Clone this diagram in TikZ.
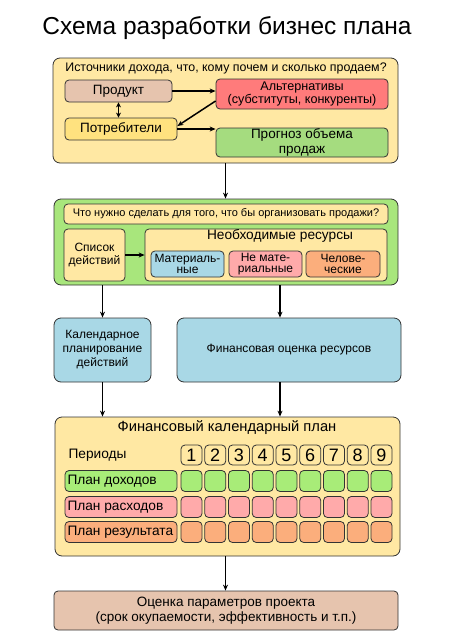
\documentclass[tikz,border=0pt]{standalone}
\usepackage{fontspec}
\setmainfont{Liberation Sans}
\usetikzlibrary{calc, arrows.meta}

\definecolor{yel}{HTML}{FFE8A3}
\definecolor{lime}{HTML}{A8E67C}
\definecolor{brn}{HTML}{E6C4AE}
\definecolor{redd}{HTML}{FF7B7B}
\definecolor{sun}{HTML}{FFE27F}
\definecolor{grn}{HTML}{A5DC7F}
\definecolor{blu}{HTML}{A9D8E6}
\definecolor{pnk}{HTML}{FFAAAA}
\definecolor{orn}{HTML}{FBAE7C}
\definecolor{rowg}{HTML}{A8EC78}

\begin{document}
\begin{tikzpicture}[x = 1pt, y = -1pt,
  box/.style = {draw = black!80, line width = 0.8pt, rounded corners = 4pt, inner sep = 0pt, align = center, font = \fontsize{13.5}{14.5}\selectfont},
  big/.style = {box, rounded corners = 7pt, font = \fontsize{12}{14}\selectfont},
  arr/.style = {line width = 1.5pt, -{Stealth[length = 6pt, width = 5pt]}},
  cell/.style = {box, minimum width = 21pt, minimum height = 21pt}]
\useasboundingbox (0,0) rectangle (453,640);
\node[font = \fontsize{24.5}{26}\selectfont] (ttl) at (227,28) {Схема разработки бизнес плана};
% sources of income
\node[big, fill = yel, minimum width = 345pt, minimum height = 105pt] (src) at (225.5,110.5) {};
\node[font = \fontsize{12.4}{13.5}\selectfont] (srcl) at (226,68) {Источники дохода, что, кому почем и сколько продаем?};
\node[box, fill = brn, minimum width = 107pt, minimum height = 22pt] (prod) at (118.5,91) {Продукт};
\node[box, fill = redd, minimum width = 172pt, minimum height = 30pt, font = \fontsize{12.6}{13.5}\selectfont] (alt) at (302,94) {Альтернативы\\(субституты, конкуренты)};
\node[box, fill = sun, minimum width = 112pt, minimum height = 22pt] (cons) at (121,129) {Потребители};
\node[box, fill = grn, minimum width = 172pt, minimum height = 29pt] (fcst) at (302,142.5) {Прогноз объема\\продаж};
% what to do
\node[big, fill = lime, minimum width = 344pt, minimum height = 86pt] (todo) at (226,242) {};
\node[box, fill = yel, minimum width = 324pt, minimum height = 20pt, font = \fontsize{11}{12}\selectfont] (quest) at (226,214) {Что нужно сделать для того, что бы организовать продажи?};
\node[box, fill = yel, minimum width = 61pt, minimum height = 52pt, font = \fontsize{12}{13.5}\selectfont] (acts) at (94.5,255) {Список\\действий};
\node[box, fill = yel, minimum width = 242pt, minimum height = 52pt] (res) at (266,255) {};
\node[font = \fontsize{13.7}{14}\selectfont] (resl) at (280,236) {Необходимые ресурсы};
\node[box, fill = blu, minimum width = 73pt, minimum height = 26pt, font = \fontsize{12}{11}\selectfont] (mat) at (187.5,264) {Материаль-\\ные};
\node[box, fill = pnk, minimum width = 73pt, minimum height = 26pt, font = \fontsize{12}{11}\selectfont] (nmat) at (265.5,264) {Не мате-\\риальные};
\node[box, fill = orn, minimum width = 74pt, minimum height = 26pt, font = \fontsize{12}{11}\selectfont] (hum) at (343,264) {Челове-\\ческие};
% planning
\node[big, fill = blu, minimum width = 97pt, minimum height = 64pt] (cal) at (102.5,350) {Календарное\\планирование\\действий};
\node[big, fill = blu, minimum width = 224pt, minimum height = 64pt] (fin) at (289,350) {Финансовая оценка ресурсов};
% financial plan
\node[big, fill = yel, minimum width = 345pt, minimum height = 139pt] (plan) at (227.5,486.5) {};
\node[font = \fontsize{14.7}{15}\selectfont] (planl) at (227,428) {Финансовый календарный план};
\node[anchor = west, font = \fontsize{13.7}{14}\selectfont] (per) at (65,455) {Периоды};
\foreach \n/\t/\c/\y in {inc/План доходов/rowg/481, exp/План расходов/pnk/507, rsl/План результата/orn/532}{
  \node[box, fill = \c, minimum width = 112pt, minimum height = 21pt, font = \fontsize{13.7}{15}\selectfont] (\n) at (121,\y) {\makebox[107pt][l]{\t}};
  \foreach \k in {1,...,9}{
    \node[cell, fill = \c] (\n\k) at ({191.5+23.75*(\k-1)},\y) {};
  }
}
\foreach \k in {1,...,9}{
  \node[cell, fill = yel, minimum height = 20pt, font = \fontsize{18}{18}\selectfont] (p\k) at ({191.5+23.75*(\k-1)},455) {\k};
}
\node[box, fill = brn, minimum width = 344pt, minimum height = 39pt] (eval) at (226,610.5) {Оценка параметров проекта\\(срок окупаемости, эффективность и т.п.)};
% connectors
\foreach \i/\j in {prod/alt, cons/fcst, acts/res}{
  \draw[arr] (\i.east) -- (\i.east -| \j.west);
}
\draw[arr] ($(alt.west)+(0,7)$) -- ($(cons.east)+(0,-3)$);
\draw[line width = 1.5pt, {Stealth[length = 5pt, width = 5pt]}-{Stealth[length = 5pt, width = 5pt]}] (prod.south) -- (prod.south |- cons.north);
\draw[arr] (src.south) -- (src.south |- todo.north);
\draw[arr] (todo.south -| cal.north) -- (cal.north);
\draw[arr] (todo.south -| resl) -- (fin.north -| resl);
\draw[arr] (cal.south) -- (cal.south |- plan.north);
\draw[arr] (fin.south -| resl) -- (plan.north -| resl);
\draw[arr] (plan.south -| src.south) -- (eval.north -| src.south);
\end{tikzpicture}
\end{document}
